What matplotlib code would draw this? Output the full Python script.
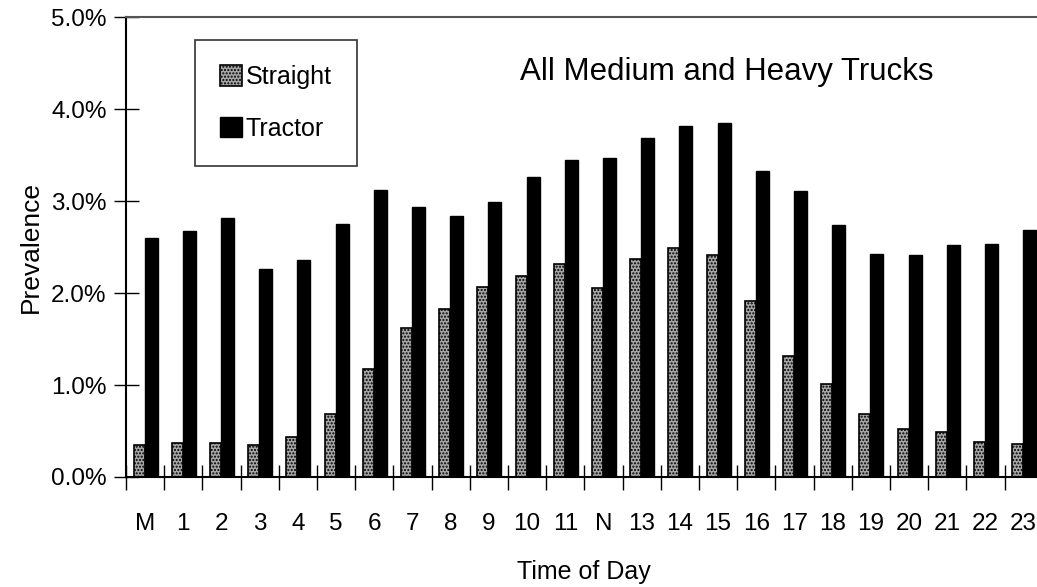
import matplotlib.pyplot as plt
import numpy as np
from matplotlib.ticker import FixedLocator, FuncFormatter

plt.rcParams['font.family'] = ['Liberation Sans', 'DejaVu Sans']

hours = ["M", "1", "2", "3", "4", "5", "6", "7", "8", "9", "10", "11",
         "N", "13", "14", "15", "16", "17", "18", "19", "20", "21", "22", "23"]

# prevalence in percent
straight = [0.35, 0.37, 0.37, 0.35, 0.44, 0.69, 1.17, 1.62, 1.83, 2.06, 2.19, 2.32,
            2.05, 2.37, 2.49, 2.41, 1.91, 1.31, 1.01, 0.69, 0.52, 0.49, 0.38, 0.36]
tractor = [2.60, 2.67, 2.82, 2.26, 2.36, 2.75, 3.12, 2.93, 2.84, 2.99, 3.26, 3.45,
           3.47, 3.68, 3.81, 3.85, 3.33, 3.11, 2.74, 2.42, 2.41, 2.52, 2.53, 2.68]

x = np.arange(len(hours))

fig = plt.figure(figsize=(10.37, 5.87), dpi=100)
ax = fig.add_axes([0.1215, 0.1874, 0.884, 0.7836])

ax.bar(x + 0.2, straight, width=0.29, align='edge', color='#a6a6a6',
       edgecolor='black', linewidth=1.2, hatch='.....', label='Straight')
ax.bar(x + 0.49, tractor, width=0.34, align='edge', color='black',
       edgecolor='black', linewidth=1.0, label='Tractor')

ax.set_xlim(0, 24)
ax.set_ylim(0, 5)

# boundary ticks without labels, labels centred on the categories
ax.xaxis.set_major_locator(FixedLocator(np.arange(0, 25)))
ax.xaxis.set_major_formatter(FuncFormatter(lambda v, p: ""))
ax.set_xticks(x + 0.5, minor=True)
ax.set_xticklabels(hours, minor=True, fontsize=17.5)
ax.tick_params(axis='x', which='major', direction='inout', length=18, width=1)
ax.tick_params(axis='x', which='minor', length=0, pad=26)

ax.set_yticks(np.arange(0, 5.1, 1.0))
ax.yaxis.set_major_formatter(FuncFormatter(lambda v, p: f"{v:.1f}%"))
ax.tick_params(axis='y', direction='inout', length=18, width=1, labelsize=17.5, pad=5)

ax.spines['right'].set_visible(False)
ax.spines['top'].set_color('#555555')
ax.spines['top'].set_linewidth(1.5)
ax.spines['left'].set_linewidth(1.5)
ax.spines['bottom'].set_linewidth(1.5)

ax.set_xlabel("Time of Day", fontsize=18, labelpad=18)
ax.set_ylabel("Prevalence", fontsize=19, labelpad=6)

ax.text(0.655, 0.88, "All Medium and Heavy Trucks", transform=ax.transAxes,
        ha='center', va='center', fontsize=22.5)

leg = ax.legend(loc='upper left', bbox_to_anchor=(0.075, 0.95), fontsize=18,
                frameon=True, fancybox=False, edgecolor='black',
                handlelength=0.9, handleheight=0.9, handletextpad=0.15,
                labelspacing=1.1, borderpad=1.0, borderaxespad=0)
leg.get_frame().set_linewidth(1.2)

fig.savefig("out.png", dpi=100)
